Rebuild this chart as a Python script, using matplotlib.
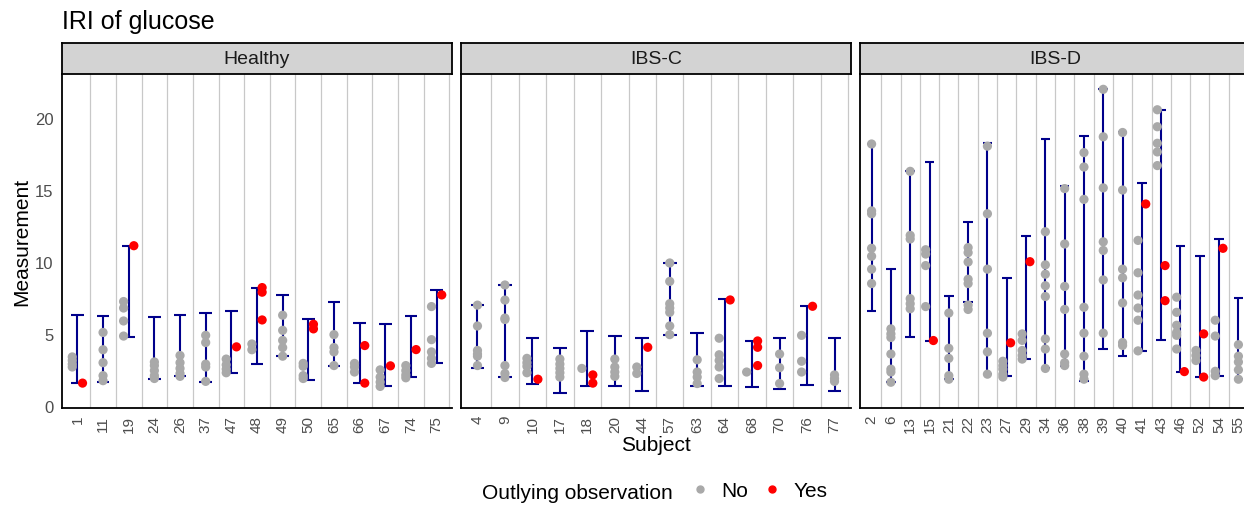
import matplotlib
matplotlib.use("Agg")
import matplotlib.pyplot as plt
from matplotlib.lines import Line2D

plt.rcParams['font.family'] = ['Liberation Sans', 'DejaVu Sans']

# ---- data: interval (lower/upper) and observations per subject ----
healthy_subjects = [1, 11, 19, 24, 26, 37, 47, 48, 49, 50, 65, 66, 67, 74, 75]
healthy_lower = [1.58, 1.69, 4.81, 1.90, 2.04, 1.69, 2.31, 2.94, 3.43, 1.83, 2.80, 1.58, 1.41, 1.97, 2.99]
healthy_upper = [6.32, 6.23, 11.13, 6.20, 6.32, 6.44, 6.62, 8.22, 7.69, 6.06, 7.24, 5.79, 5.67, 6.25, 8.03]
healthy_no = [
    [3.4, 3.15, 2.9, 2.7],
    [5.1, 3.9, 3.0, 2.1, 1.75],
    [7.25, 6.8, 5.9, 4.85],
    [3.05, 2.8, 2.45, 2.1, 1.9],
    [3.5, 3.0, 2.6, 2.25, 2.05],
    [4.9, 4.4, 2.9, 2.7, 1.7],
    [3.25, 2.85, 2.55, 2.3],
    [4.3, 3.9],
    [6.3, 5.25, 4.55, 4.05, 3.45],
    [2.95, 2.75, 2.1, 1.9],
    [4.95, 4.05, 3.75, 2.8],
    [2.95, 2.7, 2.35],
    [2.5, 2.0, 1.65, 1.35],
    [2.8, 2.45, 2.15, 1.95],
    [6.9, 4.6, 3.75, 3.3, 2.95],
]
healthy_yes = [
    [1.58], [], [11.13], [], [], [], [4.1], [8.22, 7.9, 5.97], [],
    [5.67, 5.35], [], [4.19, 1.58], [2.78], [3.91], [7.71],
]

ibsc_subjects = [4, 9, 10, 17, 18, 20, 44, 57, 63, 64, 68, 70, 76, 77]
ibsc_lower = [2.66, 1.97, 1.55, 0.90, 1.41, 1.41, 1.04, 4.95, 1.41, 1.41, 1.34, 1.18, 1.48, 1.02]
ibsc_upper = [7.04, 8.40, 4.70, 4.03, 5.23, 4.86, 4.70, 9.93, 5.09, 7.41, 4.51, 4.70, 6.92, 4.70]
ibsc_no = [
    [7.0, 5.55, 3.85, 3.6, 3.45, 2.8],
    [8.4, 7.35, 6.1, 6.0, 2.8, 2.25, 1.97],
    [3.3, 3.0, 2.75, 2.3],
    [3.25, 2.9, 2.6, 2.3, 2.0],
    [2.6],
    [3.25, 2.7, 2.35, 2.05],
    [2.7, 2.25],
    [9.93, 8.65, 7.1, 6.8, 6.5, 5.55, 4.95],
    [3.2, 2.35, 2.0, 1.55],
    [4.7, 3.55, 3.15, 2.7, 1.9],
    [2.35],
    [3.6, 2.65, 1.55],
    [4.9, 3.1, 2.35],
    [2.15, 1.9, 1.7],
]
ibsc_yes = [
    [], [], [1.85], [], [2.15, 1.58], [], [4.07], [], [], [7.36],
    [4.51, 4.07, 2.8], [], [6.92], [],
]

ibsd_subjects = [2, 6, 13, 15, 21, 22, 23, 27, 29, 34, 36, 38, 39, 40, 41, 43, 46, 52, 54, 55]
ibsd_lower = [6.57, 1.64, 4.77, 4.54, 1.85, 7.24, 2.22, 2.04, 3.26, 2.62,
              2.80, 1.76, 3.98, 3.45, 3.82, 4.60, 2.38, 2.00, 2.10, 1.85]
ibsd_upper = [18.20, 9.51, 16.30, 16.92, 7.62, 12.80, 18.26, 8.87, 11.78, 18.54,
              15.30, 18.77, 22.01, 19.00, 15.49, 20.58, 11.10, 10.44, 11.60, 7.52]
ibsd_no = [
    [18.2, 13.55, 13.35, 10.95, 10.4, 9.5, 8.5],
    [5.35, 5.0, 4.75, 3.6, 2.55, 2.35, 1.64],
    [16.3, 11.85, 11.6, 7.45, 7.1, 6.75],
    [10.85, 10.55, 9.75, 6.9],
    [6.45, 4.0, 3.3, 2.1, 1.85],
    [11.0, 10.65, 10.0, 8.8, 8.5, 7.0, 6.7],
    [18.05, 13.35, 9.5, 5.05, 3.75, 2.2],
    [3.1, 2.8, 2.55, 2.2, 2.0],
    [5.0, 4.55, 3.85, 3.5, 3.25],
    [12.1, 9.8, 9.15, 8.35, 7.6, 4.65, 3.95, 2.6],
    [15.1, 11.25, 8.3, 6.7, 3.6, 3.0, 2.8],
    [17.6, 16.6, 14.35, 6.85, 5.05, 3.45, 2.2, 1.85],
    [22.0, 18.7, 15.15, 11.4, 10.8, 8.75, 5.05],
    [19.0, 15.0, 9.5, 8.9, 7.15, 4.4, 4.2],
    [11.5, 9.25, 7.7, 6.8, 5.95, 3.82],
    [20.58, 19.4, 18.25, 17.65, 16.7],
    [7.55, 6.5, 5.6, 5.1, 4.9, 3.95],
    [3.85, 3.5, 3.15],
    [5.95, 4.85, 2.4, 2.1],
    [4.25, 3.45, 3.05, 2.5, 1.85],
]
ibsd_yes = [
    [], [], [], [4.54], [], [], [], [4.38], [10.02], [], [], [], [], [],
    [14.03], [9.75, 7.31], [2.38], [5.0, 2.0], [10.95], [],
]

groups = ["Healthy", "IBS-C", "IBS-D"]
panels = [
    (healthy_subjects, healthy_lower, healthy_upper, healthy_no, healthy_yes),
    (ibsc_subjects, ibsc_lower, ibsc_upper, ibsc_no, ibsc_yes),
    (ibsd_subjects, ibsd_lower, ibsd_upper, ibsd_no, ibsd_yes),
]

col_no = "#A9A9A9"
col_yes = "#FF0000"
col_bar = "#00008B"
tick_col = "#4D4D4D"

W, H = 1244, 506
fig = plt.figure(figsize=(W / 100, H / 100), dpi=100)


def px_box(left, top, width, height):
    return [left / W, 1 - (top + height) / H, width / W, height / H]


panel_left = [62, 461, 860]
panel_w = 390
panel_top = 74.5
panel_bottom = 409
strip_top = 43.5


def draw_panel(ax, subjects, lower, upper, no_vals, yes_vals):
    n = len(subjects)
    pos = list(range(1, n + 1))
    for b in range(1, n + 1):
        ax.axvline(b + 0.5, color="#C8C8C8", lw=0.9, zorder=0)
    ax.vlines(pos, lower, upper, color=col_bar, lw=1.5, zorder=2)
    ax.hlines(lower, [p - 0.25 for p in pos], [p + 0.25 for p in pos], color=col_bar, lw=1.5, zorder=2)
    ax.hlines(upper, [p - 0.25 for p in pos], [p + 0.25 for p in pos], color=col_bar, lw=1.5, zorder=2)
    for p, nv, yv in zip(pos, no_vals, yes_vals):
        both = len(nv) > 0 and len(yv) > 0
        dx = 0.2 if both else 0.0
        if nv:
            ax.scatter([p - dx] * len(nv), nv, s=44, color=col_no, edgecolors="none", zorder=3)
        if yv:
            ax.scatter([p + dx] * len(yv), yv, s=44, color=col_yes, edgecolors="none", zorder=4)
    ax.set_xlim(0.4, n + 0.6)
    ax.set_ylim(-0.15, 23.1)
    ax.set_xticks(pos)
    ax.set_xticklabels([str(s) for s in subjects], rotation=90, fontsize=11, color=tick_col)
    ax.set_yticks([0, 5, 10, 15, 20])
    ax.tick_params(length=0, pad=5)
    ax.tick_params(axis="y", labelsize=12, labelcolor=tick_col, pad=6)
    for side in ["top", "right"]:
        ax.spines[side].set_visible(False)
    for side in ["left", "bottom"]:
        ax.spines[side].set_linewidth(1.3)
        ax.spines[side].set_color("black")


for i, (name, data) in enumerate(zip(groups, panels)):
    ax = fig.add_axes(px_box(panel_left[i], panel_top, panel_w, panel_bottom - panel_top))
    draw_panel(ax, *data)
    if i > 0:
        ax.set_yticklabels([])
    strip = fig.add_axes(px_box(panel_left[i], strip_top, panel_w, panel_top - strip_top))
    strip.set_facecolor("#D3D3D3")
    strip.set_xticks([])
    strip.set_yticks([])
    for sp in strip.spines.values():
        sp.set_linewidth(1.3)
        sp.set_color("black")
    strip.text(0.5, 0.5, name, ha="center", va="center", fontsize=14,
               color="#1A1A1A", transform=strip.transAxes)

fig.text(62 / W, 1 - 29 / H, "IRI of glucose", fontsize=18, va="baseline", ha="left")
fig.text(656 / W, 1 - 451 / H, "Subject", fontsize=15, va="baseline", ha="center")
fig.text(22 / W, 1 - 241.5 / H, "Measurement", fontsize=15, va="center", ha="center", rotation=90)

# legend
fig.text(482 / W, 1 - 499.5 / H, "Outlying observation", fontsize=15, va="baseline", ha="left")
handles = [
    Line2D([], [], marker="o", ls="", color=col_no, markersize=5, label="No"),
    Line2D([], [], marker="o", ls="", color=col_yes, markersize=5, label="Yes"),
]
fig.legend(handles=handles, loc="center left", bbox_to_anchor=(689.6 / W, 1 - 492 / H),
           ncol=2, frameon=False, fontsize=15, handlelength=1.0, handletextpad=0.54,
           columnspacing=0.63, borderpad=0, borderaxespad=0)

fig.savefig("out.png", dpi=100)
